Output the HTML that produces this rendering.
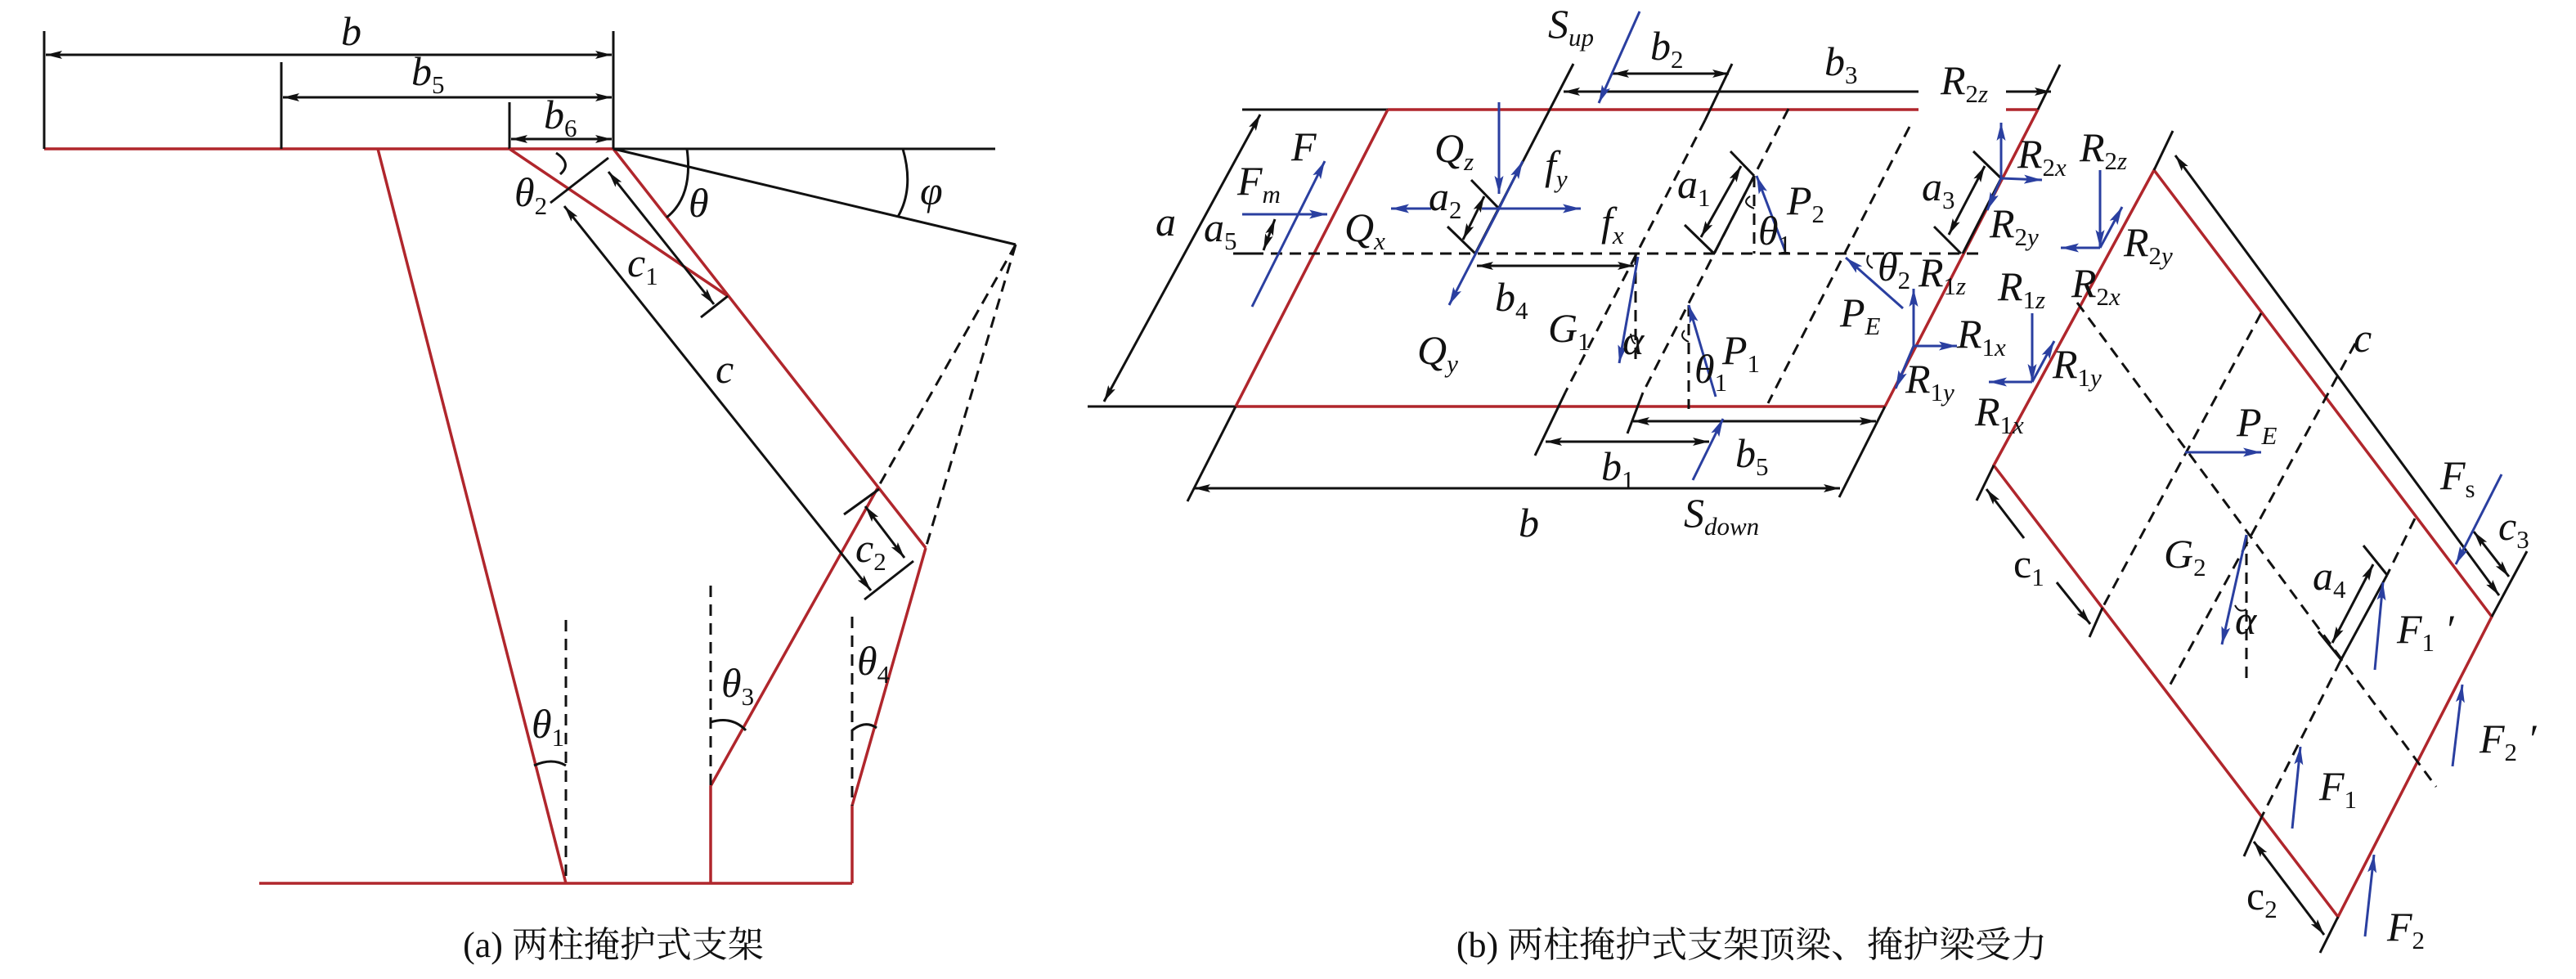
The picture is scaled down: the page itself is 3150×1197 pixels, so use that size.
<!DOCTYPE html>
<html><head><meta charset="utf-8"><style>
html,body{margin:0;padding:0;background:#fff}
svg{display:block}
.r{stroke:#b0262c;stroke-width:3.5;fill:none}
.k{stroke:#111;stroke-width:3;fill:none}
.d{stroke:#111;stroke-width:3;fill:none;stroke-dasharray:14 9}
.b{stroke:#2a3fa0;stroke-width:3;fill:none}
text{font-family:"Liberation Serif","Noto Serif CJK SC",serif;fill:#111}
.l{font-style:italic;font-size:50px}
.u{font-size:31px}
.n{font-style:normal}
.cap{font-size:44px;font-style:normal}
</style></head><body>
<svg width="3150" height="1197" viewBox="0 0 3150 1197" xmlns="http://www.w3.org/2000/svg">
<defs>
<marker id="ak" viewBox="0 0 20 10" refX="20" refY="5" markerWidth="20" markerHeight="10" markerUnits="userSpaceOnUse" orient="auto-start-reverse"><path d="M0,0L20,5L0,10L4,5z" fill="#111"/></marker>
<marker id="ab" viewBox="0 0 20 10" refX="20" refY="5" markerWidth="22" markerHeight="11" markerUnits="userSpaceOnUse" orient="auto"><path d="M0,0L20,5L0,10L4,5z" fill="#2a3fa0"/></marker>
</defs>

<!-- ===== (a) ===== -->
<line class="r" x1="54" y1="182" x2="750" y2="182"/>
<line class="k" x1="750" y1="182" x2="1217" y2="182"/>
<line class="k" x1="54" y1="38" x2="54" y2="182"/>
<line class="k" x1="750" y1="38" x2="750" y2="182"/>
<line class="k" x1="344" y1="76" x2="344" y2="182"/>
<line class="k" x1="623" y1="125" x2="623" y2="182"/>
<line class="k" x1="56" y1="67" x2="748" y2="67" marker-start="url(#ak)" marker-end="url(#ak)"/>
<line class="k" x1="346" y1="119" x2="748" y2="119" marker-start="url(#ak)" marker-end="url(#ak)"/>
<line class="k" x1="625" y1="170" x2="748" y2="170" marker-start="url(#ak)" marker-end="url(#ak)"/>
<text class="l" x="417" y="55">b</text>
<text class="l" x="503" y="104">b<tspan class="u n" dy="10">5</tspan></text>
<text class="l" x="665" y="157">b<tspan class="u n" dy="10">6</tspan></text>

<line class="r" x1="462" y1="182" x2="692" y2="1080"/>
<line class="r" x1="317" y1="1080" x2="1042" y2="1080"/>
<polyline class="r" points="869,1080 869,961 1073,597"/>
<polyline class="r" points="1042,1080 1042,985 1132,670"/>
<line class="r" x1="750" y1="182" x2="1132" y2="670"/>
<line class="r" x1="623" y1="182" x2="890" y2="362"/>
<line class="k" x1="750" y1="182" x2="1242" y2="299"/>
<line class="d" x1="1242" y1="299" x2="1073" y2="597"/>
<line class="d" x1="1242" y1="299" x2="1132" y2="670"/>
<path class="k" d="M1104,182 Q1118,230 1098,265"/>
<path class="k" d="M840,182 Q848,240 815,266"/>
<path class="k" d="M680,187 Q700,200 685,213"/>
<line class="k" x1="673" y1="248" x2="744" y2="193"/>
<line class="k" x1="857" y1="388" x2="890" y2="362"/>
<line class="k" x1="744" y1="210" x2="873" y2="372" marker-start="url(#ak)" marker-end="url(#ak)"/>
<line class="k" x1="690" y1="252" x2="1065" y2="722" marker-start="url(#ak)" marker-end="url(#ak)"/>
<line class="k" x1="1057" y1="733" x2="1117" y2="686"/>
<line class="k" x1="1032" y1="629" x2="1075" y2="598"/>
<line class="k" x1="1058" y1="619" x2="1106" y2="682" marker-start="url(#ak)" marker-end="url(#ak)"/>
<line class="d" x1="692" y1="758" x2="692" y2="1080"/>
<line class="d" x1="869" y1="716" x2="869" y2="961"/>
<line class="d" x1="1042" y1="754" x2="1042" y2="985"/>
<path class="k" d="M653,936 Q675,926 692,936"/>
<path class="k" d="M869,883 Q895,875 912,893"/>
<path class="k" d="M1042,893 Q1058,880 1072,890"/>
<text class="l" x="629" y="252">θ<tspan class="u n" dy="10">2</tspan></text>
<text class="l" x="842" y="265">θ</text>
<text class="l" x="1125" y="250">φ</text>
<text class="l" x="767" y="338">c<tspan class="u n" dy="10">1</tspan></text>
<text class="l" x="875" y="468">c</text>
<text class="l" x="1046" y="687">c<tspan class="u n" dy="10">2</tspan></text>
<text class="l" x="650" y="902">θ<tspan class="u n" dy="10">1</tspan></text>
<text class="l" x="882" y="852">θ<tspan class="u n" dy="10">3</tspan></text>
<text class="l" x="1048" y="825">θ<tspan class="u n" dy="10">4</tspan></text>
<text class="cap" x="750" y="1170" text-anchor="middle">(a) 两柱掩护式支架</text>

<!-- ===== (b) top beam ===== -->
<line class="k" x1="1519" y1="134" x2="1697" y2="134"/>
<line class="k" x1="1330" y1="497" x2="1511" y2="497"/>
<line class="r" x1="1697" y1="134" x2="2346" y2="134"/>
<line class="r" x1="2453" y1="134" x2="2492" y2="134"/>
<line class="r" x1="1511" y1="497" x2="2305" y2="497"/>
<line class="r" x1="1697" y1="134" x2="1511" y2="497"/>
<line class="r" x1="2492" y1="134" x2="2305" y2="497"/>
<line class="k" x1="2519" y1="79" x2="2492" y2="134"/>
<line class="k" x1="1511" y1="497" x2="1452" y2="613"/>
<line class="k" x1="2305" y1="497" x2="2249" y2="608"/>
<line class="k" x1="1541" y1="140" x2="1350" y2="491" marker-start="url(#ak)" marker-end="url(#ak)"/>
<line class="d" x1="1508" y1="310" x2="2421" y2="310"/>
<line class="k" x1="1508" y1="310" x2="1540" y2="310"/>
<line class="k" x1="1545" y1="306" x2="1559" y2="268" marker-start="url(#ak)" marker-end="url(#ak)"/>
<!-- sloped lines -->
<line class="k" x1="1924" y1="78" x2="1804" y2="310"/>
<line class="k" x1="2118" y1="78" x2="2085" y2="147"/>
<line class="d" x1="2085" y1="147" x2="1914" y2="480"/>
<line class="k" x1="1914" y1="480" x2="1877" y2="557"/>
<line class="d" x1="2187" y1="133" x2="2009" y2="480"/>
<line class="k" x1="2009" y1="480" x2="1990" y2="530"/>
<line class="d" x1="2335" y1="155" x2="2162" y2="493"/>
<!-- dims top -->
<line class="k" x1="1972" y1="90" x2="2114" y2="90" marker-start="url(#ak)" marker-end="url(#ak)"/>
<line class="k" x1="1912" y1="112" x2="2346" y2="112" marker-start="url(#ak)"/>
<line class="k" x1="2453" y1="112" x2="2508" y2="112" marker-end="url(#ak)"/>
<!-- dims bottom -->
<line class="k" x1="1460" y1="597" x2="2250" y2="597" marker-start="url(#ak)" marker-end="url(#ak)"/>
<line class="k" x1="1890" y1="540" x2="2090" y2="540" marker-start="url(#ak)" marker-end="url(#ak)"/>
<line class="k" x1="1997" y1="515" x2="2294" y2="515" marker-start="url(#ak)" marker-end="url(#ak)"/>
<line class="b" x1="2070" y1="587" x2="2107" y2="512" marker-end="url(#ab)"/>
<!-- a2 -->
<line class="k" x1="1799" y1="220" x2="1833" y2="255"/>
<line class="k" x1="1770" y1="277" x2="1804" y2="310"/>
<line class="k" x1="1815" y1="240" x2="1789" y2="293" marker-start="url(#ak)" marker-end="url(#ak)"/>
<!-- a1 -->
<line class="k" x1="2116" y1="185" x2="2145" y2="215"/>
<line class="k" x1="2060" y1="275" x2="2096" y2="310"/>
<line class="k" x1="2145" y1="215" x2="2096" y2="310"/>
<line class="k" x1="2129" y1="203" x2="2080" y2="290" marker-start="url(#ak)" marker-end="url(#ak)"/>
<line class="d" x1="2145" y1="215" x2="2145" y2="310"/>
<!-- a3 -->
<line class="k" x1="2413" y1="185" x2="2447" y2="218"/>
<line class="k" x1="2365" y1="277" x2="2398" y2="310"/>
<line class="k" x1="2447" y1="218" x2="2400" y2="310"/>
<line class="k" x1="2427" y1="203" x2="2383" y2="287" marker-start="url(#ak)" marker-end="url(#ak)"/>
<!-- b4 -->
<line class="k" x1="1806" y1="325" x2="1998" y2="325" marker-start="url(#ak)" marker-end="url(#ak)"/>
<line class="d" x1="2000" y1="310" x2="2000" y2="447"/>
<line class="d" x1="2065" y1="373" x2="2065" y2="500"/>
<!-- blue forces top beam -->
<line class="b" x1="1531" y1="375" x2="1620" y2="197" marker-end="url(#ab)"/>
<line class="b" x1="1519" y1="262" x2="1623" y2="262" marker-end="url(#ab)"/>
<line class="b" x1="1750" y1="255" x2="1701" y2="255" marker-end="url(#ab)"/>
<line class="b" x1="1833" y1="125" x2="1833" y2="237" marker-end="url(#ab)"/>
<line class="b" x1="1812" y1="255" x2="1933" y2="255" marker-end="url(#ab)"/>
<line class="b" x1="1833" y1="255" x2="1862" y2="197" marker-end="url(#ab)"/>
<line class="b" x1="1833" y1="255" x2="1772" y2="373" marker-end="url(#ab)"/>
<line class="b" x1="2005" y1="14" x2="1955" y2="126" marker-end="url(#ab)"/>
<line class="b" x1="2003" y1="314" x2="1980" y2="444" marker-end="url(#ab)"/>
<line class="b" x1="2183" y1="307" x2="2148" y2="215" marker-end="url(#ab)"/>
<line class="b" x1="2098" y1="485" x2="2065" y2="373" marker-end="url(#ab)"/>
<line class="b" x1="2327" y1="377" x2="2257" y2="315" marker-end="url(#ab)"/>
<line class="b" x1="2340" y1="423" x2="2340" y2="353" marker-end="url(#ab)"/>
<line class="b" x1="2340" y1="423" x2="2393" y2="423" marker-end="url(#ab)"/>
<line class="b" x1="2340" y1="423" x2="2318" y2="475" marker-end="url(#ab)"/>
<line class="b" x1="2447" y1="218" x2="2447" y2="150" marker-end="url(#ab)"/>
<line class="b" x1="2447" y1="218" x2="2497" y2="220" marker-end="url(#ab)"/>
<line class="b" x1="2447" y1="218" x2="2430" y2="257" marker-end="url(#ab)"/>
<path class="k" d="M2140,240 Q2128,248 2145,255" style="stroke-width:2"/>
<path class="k" d="M2060,404 Q2052,412 2065,418" style="stroke-width:2"/>
<path class="k" d="M1994,408 Q1996,420 2000,420" style="stroke-width:2"/>
<path class="k" d="M2285,312 Q2280,322 2290,328" style="stroke-width:2"/>
<!-- labels top beam -->
<text class="l" x="1893" y="46">S<tspan class="u" dy="10">up</tspan></text>
<text class="l" x="2018" y="73">b<tspan class="u n" dy="10">2</tspan></text>
<text class="l" x="2231" y="92">b<tspan class="u n" dy="10">3</tspan></text>
<text class="l" x="2373" y="115">R<tspan class="u n" dy="10">2</tspan><tspan class="u">z</tspan></text>
<text class="l" x="1413" y="288">a</text>
<text class="l" x="1579" y="196">F</text>
<text class="l" x="1513" y="238">F<tspan class="u" dy="10">m</tspan></text>
<text class="l" x="1472" y="295">a<tspan class="u n" dy="10">5</tspan></text>
<text class="l" x="1644" y="295">Q<tspan class="u" dy="10">x</tspan></text>
<text class="l" x="1754" y="198">Q<tspan class="u" dy="10">z</tspan></text>
<text class="l" x="1747" y="257">a<tspan class="u n" dy="10">2</tspan></text>
<text class="l" x="1889" y="219">f<tspan class="u" dy="10">y</tspan></text>
<text class="l" x="1958" y="288">f<tspan class="u" dy="10">x</tspan></text>
<text class="l" x="1828" y="380">b<tspan class="u n" dy="10">4</tspan></text>
<text class="l" x="1893" y="418">G<tspan class="u n" dy="10">1</tspan></text>
<text class="l" x="1984" y="433">α</text>
<text class="l" x="1733" y="445">Q<tspan class="u" dy="10">y</tspan></text>
<text class="l" x="2051" y="242">a<tspan class="u n" dy="10">1</tspan></text>
<text class="l" x="2185" y="262">P<tspan class="u n" dy="10">2</tspan></text>
<text class="l" x="2150" y="299">θ<tspan class="u n" dy="10">1</tspan></text>
<text class="l" x="2106" y="445">P<tspan class="u n" dy="10">1</tspan></text>
<text class="l" x="2072" y="468">θ<tspan class="u n" dy="10">1</tspan></text>
<text class="l" x="2350" y="245">a<tspan class="u n" dy="10">3</tspan></text>
<text class="l" x="2250" y="399">P<tspan class="u" dy="10">E</tspan></text>
<text class="l" x="2296" y="343">θ<tspan class="u n" dy="10">2</tspan></text>
<text class="l" x="2346" y="350">R<tspan class="u n" dy="10">1</tspan><tspan class="u">z</tspan></text>
<text class="l" x="2467" y="205">R<tspan class="u n" dy="10">2</tspan><tspan class="u">x</tspan></text>
<text class="l" x="2433" y="290">R<tspan class="u n" dy="10">2</tspan><tspan class="u">y</tspan></text>
<text class="l" x="2393" y="425">R<tspan class="u n" dy="10">1</tspan><tspan class="u">x</tspan></text>
<text class="l" x="2330" y="480">R<tspan class="u n" dy="10">1</tspan><tspan class="u">y</tspan></text>
<text class="l" x="1958" y="587">b<tspan class="u n" dy="10">1</tspan></text>
<text class="l" x="2122" y="571">b<tspan class="u n" dy="10">5</tspan></text>
<text class="l" x="1857" y="656">b</text>
<text class="l" x="2059" y="644">S<tspan class="u" dy="10">down</tspan></text>

<!-- ===== shield beam ===== -->
<polygon class="r" points="2634,208 3047,754 2859,1121 2438,569"/>
<line class="k" x1="2657" y1="160" x2="2634" y2="208"/>
<line class="k" x1="2660" y1="190" x2="3056" y2="728" marker-start="url(#ak)" marker-end="url(#ak)"/>
<line class="k" x1="3090" y1="674" x2="3047" y2="754"/>
<line class="k" x1="3025" y1="650" x2="3068" y2="705" marker-start="url(#ak)" marker-end="url(#ak)"/>
<line class="k" x1="2438" y1="569" x2="2417" y2="612"/>
<line class="k" x1="2475" y1="658" x2="2429" y2="598" marker-end="url(#ak)"/>
<line class="k" x1="2515" y1="712" x2="2556" y2="763" marker-end="url(#ak)"/>
<line class="k" x1="2571" y1="743" x2="2555" y2="779"/>
<line class="k" x1="2765" y1="1000" x2="2744" y2="1047"/>
<line class="k" x1="2756" y1="1029" x2="2842" y2="1143" marker-start="url(#ak)" marker-end="url(#ak)"/>
<line class="k" x1="2859" y1="1121" x2="2837" y2="1165"/>
<line class="d" x1="2540" y1="370" x2="2979" y2="962"/>
<line class="d" x1="2765" y1="383" x2="2571" y2="743"/>
<line class="d" x1="2880" y1="420" x2="2650" y2="844"/>
<line class="d" x1="2953" y1="634" x2="2919" y2="703"/>
<line class="k" x1="2919" y1="703" x2="2862" y2="808"/>
<line class="d" x1="2862" y1="808" x2="2765" y2="1000"/>
<line class="k" x1="2890" y1="667" x2="2919" y2="703"/>
<line class="k" x1="2835" y1="772" x2="2864" y2="808"/>
<line class="k" x1="2902" y1="690" x2="2852" y2="786" marker-start="url(#ak)" marker-end="url(#ak)"/>
<line class="d" x1="2747" y1="654" x2="2747" y2="835"/>
<path class="k" d="M2733,740 Q2738,750 2747,745" style="stroke-width:2"/>
<!-- blue on shield -->
<line class="b" x1="2568" y1="208" x2="2568" y2="303" marker-end="url(#ab)"/>
<line class="b" x1="2568" y1="303" x2="2520" y2="303" marker-end="url(#ab)"/>
<line class="b" x1="2568" y1="303" x2="2595" y2="253" marker-end="url(#ab)"/>
<line class="b" x1="2485" y1="383" x2="2485" y2="467" marker-end="url(#ab)"/>
<line class="b" x1="2485" y1="467" x2="2432" y2="467" marker-end="url(#ab)"/>
<line class="b" x1="2485" y1="467" x2="2512" y2="417" marker-end="url(#ab)"/>
<line class="b" x1="2672" y1="553" x2="2765" y2="553" marker-end="url(#ab)"/>
<line class="b" x1="2747" y1="654" x2="2717" y2="788" marker-end="url(#ab)"/>
<line class="b" x1="3059" y1="580" x2="3003" y2="690" marker-end="url(#ab)"/>
<line class="b" x1="2904" y1="819" x2="2914" y2="712" marker-end="url(#ab)"/>
<line class="b" x1="2999" y1="937" x2="3011" y2="837" marker-end="url(#ab)"/>
<line class="b" x1="2803" y1="1013" x2="2813" y2="913" marker-end="url(#ab)"/>
<line class="b" x1="2892" y1="1145" x2="2903" y2="1045" marker-end="url(#ab)"/>
<!-- shield labels -->
<text class="l" x="2543" y="197">R<tspan class="u n" dy="10">2</tspan><tspan class="u">z</tspan></text>
<text class="l" x="2597" y="313">R<tspan class="u n" dy="10">2</tspan><tspan class="u">y</tspan></text>
<text class="l" x="2443" y="367">R<tspan class="u n" dy="10">1</tspan><tspan class="u">z</tspan></text>
<text class="l" x="2533" y="363">R<tspan class="u n" dy="10">2</tspan><tspan class="u">x</tspan></text>
<text class="l" x="2510" y="462">R<tspan class="u n" dy="10">1</tspan><tspan class="u">y</tspan></text>
<text class="l" x="2415" y="520">R<tspan class="u n" dy="10">1</tspan><tspan class="u">x</tspan></text>
<text class="l" x="2878" y="430">c</text>
<text class="l" x="2735" y="533">P<tspan class="u" dy="10">E</tspan></text>
<text class="l" x="2984" y="598">F<tspan class="u n" dy="10">s</tspan></text>
<text class="l" x="3055" y="660">c<tspan class="u n" dy="10">3</tspan></text>
<text class="l" x="2646" y="694">G<tspan class="u n" dy="10">2</tspan></text>
<text class="l" x="2733" y="775">α</text>
<text class="l" x="2828" y="721">a<tspan class="u n" dy="10">4</tspan></text>
<text class="l" x="2931" y="786">F<tspan class="u n" dy="10">1</tspan><tspan dy="-10"> ′</tspan></text>
<text class="l" x="3032" y="920">F<tspan class="u n" dy="10">2</tspan><tspan dy="-10"> ′</tspan></text>
<text class="l" x="2836" y="978">F<tspan class="u n" dy="10">1</tspan></text>
<text class="l" x="2919" y="1150">F<tspan class="u n" dy="10">2</tspan></text>
<text x="2462" y="706" style="font-size:50px">c<tspan class="u" dy="10">1</tspan></text>
<text x="2747" y="1112" style="font-size:50px">c<tspan class="u" dy="10">2</tspan></text>
<text class="cap" x="2142" y="1170" text-anchor="middle">(b) 两柱掩护式支架顶梁、掩护梁受力</text>
</svg>
</body></html>
